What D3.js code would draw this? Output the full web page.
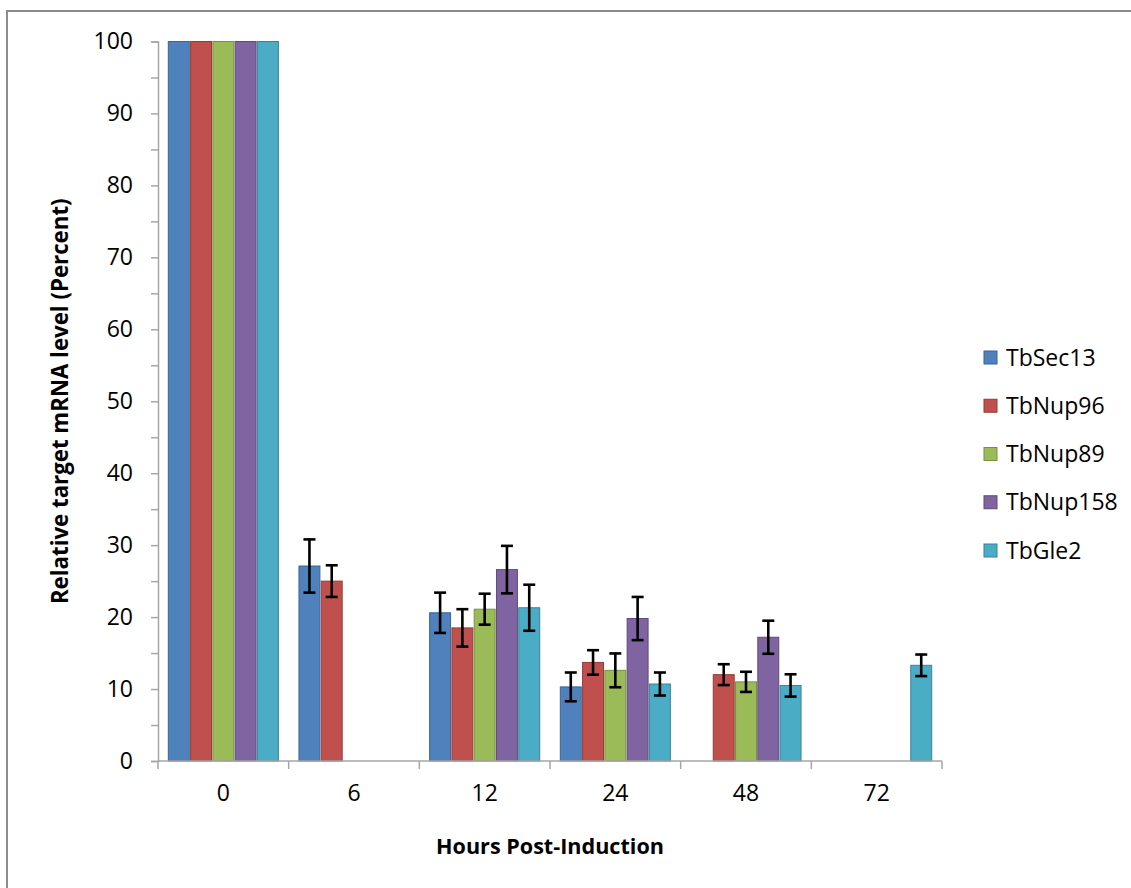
<!DOCTYPE html>
<html>
<head>
<meta charset="utf-8">
<script src="https://cdn.jsdelivr.net/npm/d3@7"></script>
<style>
  html, body { margin: 0; padding: 0; background: #fff; }
  svg { display: block; }
  text { font-family: "Open Sans", "Liberation Sans", sans-serif; fill: #000; }
</style>
</head>
<body>
<script>
const categories = ["0", "6", "12", "24", "48", "72"];
const series = ["TbSec13", "TbNup96", "TbNup89", "TbNup158", "TbGle2"];
const valuesTbSec13  = [100, 27.1, 20.6, 10.3, null, null];
const valuesTbNup96  = [100, 25.0, 18.5, 13.7, 12.0, null];
const valuesTbNup89  = [100, null, 21.1, 12.6, 11.0, null];
const valuesTbNup158 = [100, null, 26.6, 19.8, 17.2, null];
const valuesTbGle2   = [100, null, 21.3, 10.7, 10.5, 13.3];
const errTbSec13  = [0, 3.7, 2.8, 2.0, null, null];
const errTbNup96  = [0, 2.2, 2.6, 1.7, 1.45, null];
const errTbNup89  = [0, null, 2.15, 2.35, 1.4, null];
const errTbNup158 = [0, null, 3.3, 3.0, 2.3, null];
const errTbGle2   = [0, null, 3.2, 1.6, 1.55, 1.5];
const yTicks = [0, 5, 10, 15, 20, 25, 30, 35, 40, 45, 50, 55, 60, 65, 70, 75, 80, 85, 90, 95, 100];
const yTitle = "Relative target mRNA level (Percent)";
const xTitle = "Hours Post-Induction";

const seriesValues = [valuesTbSec13, valuesTbNup96, valuesTbNup89, valuesTbNup158, valuesTbGle2];
const seriesErrors = [errTbSec13, errTbNup96, errTbNup89, errTbNup158, errTbGle2];
const fills   = ["#4F81BD", "#C0504D", "#9BBB59", "#8064A2", "#4BACC6"];
const strokes = ["#3A6594", "#953B39", "#77913F", "#5F4A7A", "#358499"];

const W = 1131, H = 888;
const svg = d3.select("body").append("svg").attr("width", W).attr("height", H);

// outer frame
svg.append("rect").attr("x", 7).attr("y", 11).attr("width", 1300).attr("height", 1000)
  .attr("fill", "none").attr("stroke", "#8c8c8c").attr("stroke-width", 2);

const x = d3.scaleBand().domain(categories).range([158, 942]).paddingInner(0).paddingOuter(0);
const xs = d3.scaleBand().domain(series).range([10.3, x.bandwidth() - 10.3]).paddingInner(0.06).paddingOuter(0);
const y = d3.scaleLinear().domain([0, 100]).range([761, 41.5]);

// bars data
const rows = [];
series.forEach((s, i) => {
  categories.forEach((c, j) => {
    const v = seriesValues[i][j];
    if (v !== null && v !== undefined) rows.push({ s, i, c, v, e: seriesErrors[i][j] });
  });
});

// y axis
const yAxis = d3.axisLeft(y).tickValues(yTicks).tickSize(7).tickPadding(18)
  .tickFormat(d => d % 10 === 0 ? d : "");
const gy = svg.append("g").attr("transform", "translate(158,0)").call(yAxis);
gy.select(".domain").attr("stroke", "#a6a6a6").attr("stroke-width", 1.5);
gy.selectAll(".tick line").attr("stroke", "#a6a6a6").attr("stroke-width", 1.5);
gy.selectAll(".tick text").style("font-size", "23px").style("font-family", "'Open Sans', sans-serif").attr("fill", "#000");

// bars
svg.append("g").selectAll("rect").data(rows).join("rect")
  .attr("x", d => x(d.c) + xs(d.s))
  .attr("y", d => y(d.v))
  .attr("width", xs.bandwidth())
  .attr("height", d => y(0) - y(d.v))
  .attr("fill", d => fills[d.i])
  .attr("stroke", d => strokes[d.i])
  .attr("stroke-width", 1);

// error bars
const eb = svg.append("g").selectAll("g").data(rows.filter(d => d.e > 0)).join("g")
  .attr("transform", d => `translate(${x(d.c) + xs(d.s) + xs.bandwidth() / 2},0)`);
eb.append("line").attr("x1", 0).attr("x2", 0)
  .attr("y1", d => y(d.v + d.e)).attr("y2", d => y(d.v - d.e))
  .attr("stroke", "#000").attr("stroke-width", 2.6);
eb.append("line").attr("x1", -6).attr("x2", 6)
  .attr("y1", d => y(d.v + d.e)).attr("y2", d => y(d.v + d.e))
  .attr("stroke", "#000").attr("stroke-width", 2.6);
eb.append("line").attr("x1", -6).attr("x2", 6)
  .attr("y1", d => y(d.v - d.e)).attr("y2", d => y(d.v - d.e))
  .attr("stroke", "#000").attr("stroke-width", 2.6);

// x axis
const xAxis = d3.axisBottom(x).tickSize(0).tickPadding(24);
const gx = svg.append("g").attr("transform", `translate(0,${y(0)})`).call(xAxis);
gx.select(".domain").remove();
gx.selectAll(".tick text").style("font-size", "23px").style("font-family", "'Open Sans', sans-serif").attr("fill", "#000");
gx.append("line").attr("x1", x.range()[0]).attr("x2", x.range()[1]).attr("y1", 0).attr("y2", 0)
  .attr("stroke", "#a6a6a6").attr("stroke-width", 1.5);
const bounds = categories.map(c => x(c)).concat([x.range()[1]]);
gx.selectAll(".bt").data(bounds).join("line").attr("class", "bt")
  .attr("x1", d => d).attr("x2", d => d).attr("y1", 0).attr("y2", 8)
  .attr("stroke", "#a6a6a6").attr("stroke-width", 1.5);

// titles
function fitText(sel, target) {
  const len = sel.node().getComputedTextLength();
  const fs = parseFloat(sel.style("font-size"));
  sel.style("font-size", (fs * target / len) + "px");
}
const xt = svg.append("text").attr("x", 550).attr("y", 854).attr("text-anchor", "middle")
  .style("font-size", "22px").style("font-weight", "bold").text(xTitle);
fitText(xt, 228);
const yt = svg.append("text").attr("transform", `translate(68,${(y(0) + y(100)) / 2}) rotate(-90)`)
  .attr("text-anchor", "middle")
  .style("font-size", "22px").style("font-weight", "bold").text(yTitle);
fitText(yt, 406);

// legend
const lg = svg.append("g").selectAll("g").data(series).join("g")
  .attr("transform", (d, i) => `translate(984,${357.5 + i * 48.25})`);
lg.append("rect").attr("x", 0).attr("y", -6.5).attr("width", 13).attr("height", 13)
  .attr("fill", (d, i) => fills[i]).attr("stroke", (d, i) => strokes[i]).attr("stroke-width", 1);
lg.append("text").attr("x", 22).attr("y", 0).attr("dy", "0.35em")
  .style("font-size", "23px").text(d => d);
</script>
</body>
</html>
